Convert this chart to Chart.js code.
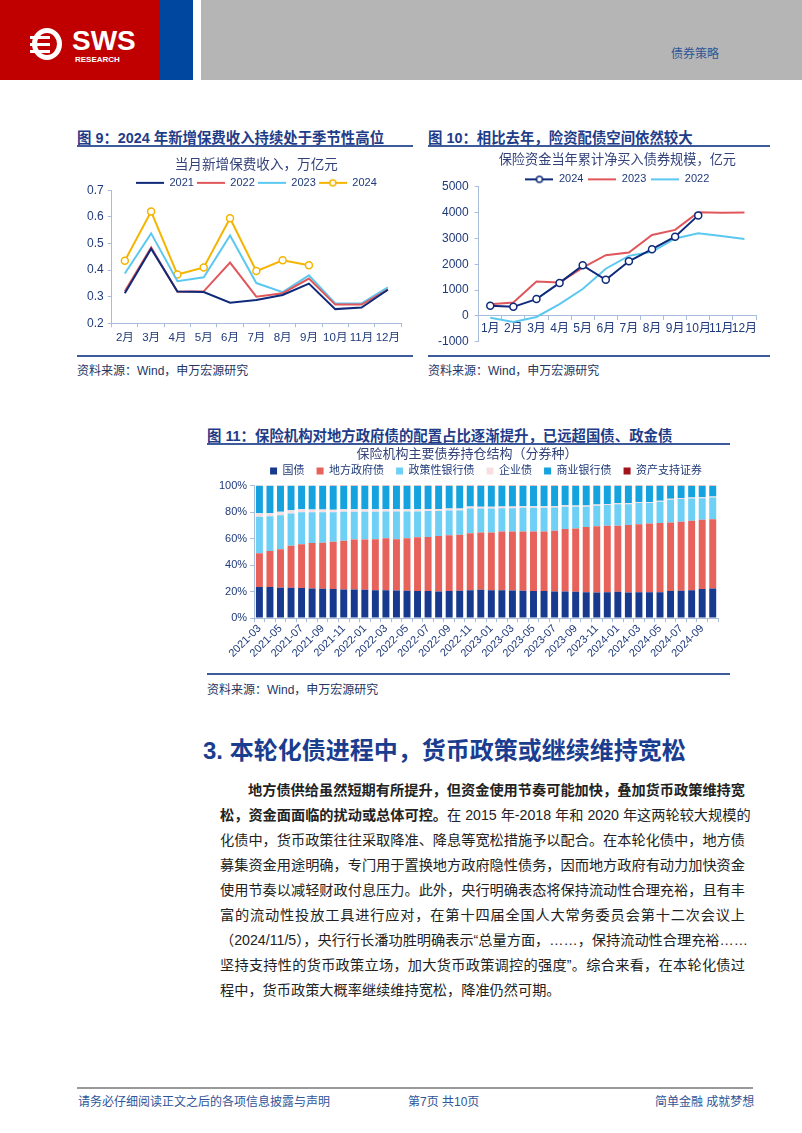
<!DOCTYPE html>
<html>
<head>
<meta charset="utf-8">
<script src="https://cdn.jsdelivr.net/npm/chart.js@4.4.1/dist/chart.umd.min.js"></script>
<style>
  body { margin: 0; background: #fff; font-family: "Liberation Sans", "Noto Sans CJK SC", sans-serif; }
  #page { position: relative; width: 802px; height: 1133px; overflow: hidden; }
  .abs { position: absolute; }
  .figtitle { font-weight: bold; font-size: 14.4px; color: #1f3c88; white-space: nowrap; }
  .rule { height: 2px; background: #3d5a9a; }
  .src { font-size: 12px; color: #26355f; white-space: nowrap; }
  .para { font-size: 14.2px; line-height: 16px; color: #222; white-space: nowrap; text-align: justify; text-align-last: justify; }
  .foot { font-size: 12px; color: #2f5597; white-space: nowrap; }
</style>
</head>
<body>
<div id="page">
  <!-- header -->
  <div class="abs" style="left:0;top:0;width:160px;height:80px;background:#c00000;"></div>
  <div class="abs" style="left:160px;top:0;width:33px;height:80px;background:#0047a0;"></div>
  <div class="abs" style="left:201px;top:0;width:601px;height:80px;background:#b5b5b5;"></div>
  <div class="abs" style="left:32px;top:28px;width:30px;height:32px;border:5px solid #fff;border-radius:50%;box-sizing:border-box;"></div>
  <div class="abs" style="left:30px;top:36px;width:20px;height:3px;background:#fff;"></div>
  <div class="abs" style="left:30px;top:43px;width:20px;height:3px;background:#fff;"></div>
  <div class="abs" style="left:30px;top:50px;width:20px;height:3px;background:#fff;"></div>
  <div class="abs" style="left:72px;top:25px;color:#fff;font:bold 28px 'Liberation Sans',sans-serif;">SWS</div>
  <div class="abs" style="left:75px;top:55px;color:#fff;font:bold 8px 'Liberation Sans',sans-serif;">RESEARCH</div>
  <div class="abs" style="left:671px;top:44px;color:#2f5597;font-size:12px;">债券策略</div>

  <!-- figure 9 / 10 titles -->
  <div class="abs figtitle" style="left:77px;top:126px;">图 9：2024 年新增保费收入持续处于季节性高位</div>
  <div class="abs rule" style="left:77px;top:145px;width:336px;"></div>
  <div class="abs figtitle" style="left:428px;top:126px;">图 10：相比去年，险资配债空间依然较大</div>
  <div class="abs rule" style="left:428px;top:145px;width:342px;"></div>
  <canvas id="c9" class="abs" width="336" height="205" style="left:77px;top:150px;"></canvas>
  <canvas id="c10" class="abs" width="342" height="205" style="left:428px;top:150px;"></canvas>
  <div class="abs rule" style="left:77px;top:355px;width:336px;"></div>
  <div class="abs rule" style="left:428px;top:355px;width:342px;"></div>
  <div class="abs src" style="left:77px;top:361px;">资料来源：Wind，申万宏源研究</div>
  <div class="abs src" style="left:428px;top:361px;">资料来源：Wind，申万宏源研究</div>

  <!-- figure 11 -->
  <div class="abs figtitle" style="left:207px;top:424px;">图 11：保险机构对地方政府债的配置占比逐渐提升，已远超国债、政金债</div>
  <div class="abs rule" style="left:207px;top:443px;width:523px;"></div>
  <canvas id="c11" class="abs" width="523" height="226" style="left:207px;top:446px;"></canvas>
  <div class="abs rule" style="left:207px;top:673px;width:523px;"></div>
  <div class="abs src" style="left:207px;top:680px;">资料来源：Wind，申万宏源研究</div>

  <!-- section -->
  <div class="abs" style="left:203px;top:737px;font-weight:bold;font-size:24px;line-height:28px;color:#1a3d8f;white-space:nowrap;">3. 本轮化债进程中，货币政策或继续维持宽松</div>
  <div id="paraBox"></div>

  <!-- footer -->
  <div class="abs" style="left:77px;top:1087px;width:676px;height:2px;background:#999;"></div>
  <div class="abs foot" style="left:78px;top:1092px;">请务必仔细阅读正文之后的各项信息披露与声明</div>
  <div class="abs foot" style="left:408px;top:1092px;">第7页 共10页</div>
  <div class="abs foot" style="left:655px;top:1092px;">简单金融 成就梦想</div>
</div>
<script>
// ---- figure 9 data: monthly new premium income, trillion yuan
const months9 = ['2月', '3月', '4月', '5月', '6月', '7月', '8月', '9月', '10月', '11月', '12月'];
const prem2021 = [0.313, 0.48, 0.319, 0.317, 0.277, 0.287, 0.306, 0.349, 0.253, 0.259, 0.326];
const prem2022 = [0.32, 0.485, 0.318, 0.32, 0.428, 0.30, 0.313, 0.368, 0.27, 0.27, 0.326];
const prem2023 = [0.387, 0.538, 0.358, 0.373, 0.53, 0.351, 0.317, 0.38, 0.274, 0.275, 0.335];
const prem2024 = [0.435, 0.62, 0.383, 0.41, 0.595, 0.396, 0.437, 0.418];

// ---- figure 10 data: cumulative net bond purchase by insurers, 100m yuan
const months10 = ['1月', '2月', '3月', '4月', '5月', '6月', '7月', '8月', '9月', '10月', '11月', '12月'];
const buy2024 = [392, 353, 654, 1281, 1960, 1399, 2118, 2588, 3072, 3895];
const buy2023 = [458, 523, 1333, 1300, 1869, 2353, 2458, 3137, 3333, 4013, 4000, 4010];
const buy2022 = [-65, -235, -39, 458, 1045, 1830, 2327, 2484, 3000, 3203, 3100, 2980];

// ---- figure 11 data: holdings structure by bond type, %
const months11 = [
  '2021-03', '2021-04', '2021-05', '2021-06', '2021-07', '2021-08', '2021-09', '2021-10', '2021-11', '2021-12',
  '2022-01', '2022-02', '2022-03', '2022-04', '2022-05', '2022-06', '2022-07', '2022-08', '2022-09', '2022-10', '2022-11', '2022-12',
  '2023-01', '2023-02', '2023-03', '2023-04', '2023-05', '2023-06', '2023-07', '2023-08', '2023-09', '2023-10', '2023-11', '2023-12',
  '2024-01', '2024-02', '2024-03', '2024-04', '2024-05', '2024-06', '2024-07', '2024-08', '2024-09', '2024-10'
];
const govBond = [23.4, 23.4, 23.0, 23.0, 22.8, 22.4, 22.1, 21.9, 21.6, 21.6, 21.4, 21.1, 21.1, 20.9, 20.6, 20.4, 20.4, 20.1, 20.4, 20.6, 21.1, 21.4,
  21.1, 21.1, 20.9, 20.6, 20.4, 20.4, 20.1, 20.1, 19.9, 19.6, 19.4, 19.6, 19.9, 19.4, 19.6, 19.6, 19.6, 20.4, 20.6, 21.0, 21.9, 22.4];
const localBond = [25.6, 27.2, 29.0, 31.6, 33.0, 34.2, 34.8, 35.7, 36.8, 37.8, 38.0, 38.5, 39.1, 38.7, 39.6, 40.6, 40.8, 41.9, 42.1, 42.4, 42.9, 43.3,
  43.6, 44.3, 44.5, 44.8, 45.0, 45.0, 45.8, 47.1, 47.8, 49.1, 50.0, 50.1, 49.8, 50.8, 51.3, 51.8, 52.1, 51.8, 52.1, 52.5, 52.3, 52.3];
const policyBank = [27.5, 26.2, 25.7, 24.4, 24.0, 23.2, 22.9, 22.2, 21.9, 20.9, 20.9, 20.7, 20.3, 20.9, 20.3, 19.5, 19.6, 18.8, 18.7, 18.3, 18.8, 18.1,
  18.1, 17.6, 17.6, 17.8, 17.8, 17.9, 17.6, 16.8, 16.3, 15.3, 15.4, 15.6, 16.3, 15.8, 15.9, 15.4, 16.1, 17.1, 17.1, 16.8, 16.3, 16.3];
const corpBond = [2.7, 2.6, 2.5, 2.4, 2.3, 2.2, 2.1, 2.0, 1.9, 1.9, 1.8, 1.8, 1.7, 1.7, 1.6, 1.6, 1.5, 1.5, 1.5, 1.4, 1.4, 1.3,
  1.3, 1.3, 1.2, 1.2, 1.2, 1.1, 1.1, 1.1, 1.0, 1.0, 1.0, 0.9, 0.9, 0.9, 0.9, 0.8, 0.8, 0.8, 0.8, 0.7, 0.7, 0.7];
const bankBond = [20.6, 20.4, 19.6, 18.4, 17.7, 17.8, 17.9, 17.9, 17.5, 17.5, 17.6, 17.6, 17.5, 17.5, 17.6, 17.6, 17.4, 17.4, 17.0, 17.0, 15.5, 15.6,
  15.6, 15.4, 15.5, 15.3, 15.3, 15.3, 15.1, 14.6, 14.7, 14.7, 13.9, 13.5, 12.8, 12.8, 12.0, 12.1, 11.1, 9.6, 9.1, 8.7, 8.5, 8.0];
const absBond = [0.2, 0.2, 0.2, 0.2, 0.2, 0.2, 0.2, 0.3, 0.3, 0.3, 0.3, 0.3, 0.3, 0.3, 0.3, 0.3, 0.3, 0.3, 0.3, 0.3, 0.3, 0.3,
  0.3, 0.3, 0.3, 0.3, 0.3, 0.3, 0.3, 0.3, 0.3, 0.3, 0.3, 0.3, 0.3, 0.3, 0.3, 0.3, 0.3, 0.3, 0.3, 0.3, 0.3, 0.3];

// ---- paragraph lines (as laid out in the report)
const paraLines = [
  ['<b>地方债供给虽然短期有所提升，但资金使用节奏可能加快，叠加货币政策维持宽</b>', true, true],
  ['<b>松，资金面面临的扰动或总体可控。</b>在 2015 年-2018 年和 2020 年这两轮较大规模的', false, true],
  ['化债中，货币政策往往采取降准、降息等宽松措施予以配合。在本轮化债中，地方债', false, true],
  ['募集资金用途明确，专门用于置换地方政府隐性债务，因而地方政府有动力加快资金', false, true],
  ['使用节奏以减轻财政付息压力。此外，央行明确表态将保持流动性合理充裕，且有丰', false, true],
  ['富的流动性投放工具进行应对，在第十四届全国人大常务委员会第十二次会议上', false, true],
  ['（2024/11/5），央行行长潘功胜明确表示“总量方面，……，保持流动性合理充裕……', false, true],
  ['坚持支持性的货币政策立场，加大货币政策调控的强度”。综合来看，在本轮化债过', false, true],
  ['程中，货币政策大概率继续维持宽松，降准仍然可期。', false, false]
];

const paraBox = document.getElementById('paraBox');
paraLines.forEach((l, i) => {
  const d = document.createElement('div');
  d.className = 'abs para';
  const left = l[1] ? 248 : 220;
  d.style.left = left + 'px';
  d.style.top = (782 + i * 25) + 'px';
  if (l[2]) d.style.width = (745 - left) + 'px';
  else d.style.textAlignLast = 'left';
  d.innerHTML = l[0];
  paraBox.appendChild(d);
});

Chart.defaults.font.family = "'Liberation Sans', 'Noto Sans CJK SC', sans-serif";
Chart.defaults.color = '#1f3a7a';
Chart.defaults.animation = false;

const axisColor = '#a9bcd9';
const tickColor = '#1f3a7a';

function legendIcon(color, marker) {
  const c = document.createElement('canvas');
  c.width = 28; c.height = 10;
  const g = c.getContext('2d');
  g.strokeStyle = color; g.lineWidth = 2;
  g.beginPath(); g.moveTo(0, 5); g.lineTo(28, 5); g.stroke();
  if (marker) {
    g.beginPath(); g.arc(14, 5, 3, 0, 2 * Math.PI);
    g.fillStyle = '#fff'; g.fill(); g.lineWidth = 1.5; g.stroke();
  }
  return c;
}

function lineLegend(icons, pad, maxH) {
  return {
    position: 'top',
    fullSize: false,
    maxHeight: maxH,
    labels: {
      usePointStyle: true,
      pointStyleWidth: 28,
      boxHeight: 10,
      padding: pad,
      color: tickColor,
      font: { size: 11 },
      generateLabels: (chart) => Chart.defaults.plugins.legend.labels.generateLabels(chart)
        .map((item, i) => Object.assign(item, { pointStyle: icons[i] }))
    }
  };
}

const c9 = document.getElementById('c9');
new Chart(c9, {
  type: 'line',
  data: {
    labels: months9,
    datasets: [
      { label: '2021', data: prem2021, borderColor: '#0f2a7a', borderWidth: 2, pointRadius: 0 },
      { label: '2022', data: prem2022, borderColor: '#e0575b', borderWidth: 2, pointRadius: 0 },
      { label: '2023', data: prem2023, borderColor: '#5cc8f0', borderWidth: 2, pointRadius: 0 },
      { label: '2024', data: prem2024, borderColor: '#f5b400', borderWidth: 2, pointRadius: 3.5,
        pointBackgroundColor: '#fff', pointBorderColor: '#f5b400', pointBorderWidth: 1.5 }
    ]
  },
  options: {
    responsive: false,
    layout: { padding: { left: 6, right: 12, bottom: 6 } },
    plugins: {
      title: { display: true, fullSize: false, text: '当月新增保费收入，万亿元', color: '#33427a', font: { size: 13.6, weight: 'normal' }, padding: { top: 7, bottom: 1 } },
      legend: lineLegend([legendIcon('#0f2a7a'), legendIcon('#e0575b'), legendIcon('#5cc8f0'), legendIcon('#f5b400', true)], 3, 16),
      tooltip: { enabled: false }
    },
    scales: {
      x: {
        offset: true,
        grid: { offset: true, drawOnChartArea: false, tickLength: 4, color: axisColor },
        border: { color: axisColor },
        ticks: { color: tickColor, font: { size: 11.5 }, autoSkip: false, maxRotation: 0, padding: 4 }
      },
      y: {
        min: 0.2, max: 0.7,
        grid: { drawOnChartArea: false, tickLength: 4, color: axisColor },
        border: { color: axisColor },
        ticks: { stepSize: 0.1, color: tickColor, font: { size: 12 }, padding: 4, callback: (v) => v.toFixed(1) }
      }
    }
  }
});

const c10 = document.getElementById('c10');
new Chart(c10, {
  type: 'line',
  data: {
    labels: months10,
    datasets: [
      { label: '2024', data: buy2024, borderColor: '#0f2a7a', borderWidth: 2, pointRadius: 3.5,
        pointBackgroundColor: '#fff', pointBorderColor: '#0f2a7a', pointBorderWidth: 1.5 },
      { label: '2023', data: buy2023, borderColor: '#e0575b', borderWidth: 2, pointRadius: 0 },
      { label: '2022', data: buy2022, borderColor: '#5cc8f0', borderWidth: 2, pointRadius: 0 }
    ]
  },
  options: {
    responsive: false,
    layout: { padding: { left: 4, right: 14, bottom: 10 } },
    plugins: {
      title: { display: true, fullSize: false, text: '保险资金当年累计净买入债券规模，亿元', color: '#33427a', font: { size: 13.2, weight: 'normal' }, padding: { top: 2, bottom: 1 } },
      legend: lineLegend([legendIcon('#0f2a7a', true), legendIcon('#e0575b'), legendIcon('#5cc8f0')], 5, 18),
      tooltip: { enabled: false }
    },
    scales: {
      x: {
        position: { y: 0 },
        offset: true,
        grid: { offset: true, drawOnChartArea: false, tickLength: 4, color: axisColor },
        border: { color: axisColor },
        ticks: { color: tickColor, font: { size: 12 }, maxRotation: 0, autoSkip: false, padding: 2 }
      },
      y: {
        min: -1000, max: 5000,
        grid: { drawOnChartArea: false, tickLength: 4, color: axisColor },
        border: { color: axisColor },
        ticks: { stepSize: 1000, color: tickColor, font: { size: 12 }, padding: 6, callback: (v) => String(v) }
      }
    }
  }
});

const c11 = document.getElementById('c11');
new Chart(c11, {
  type: 'bar',
  data: {
    labels: months11,
    datasets: [
      { label: '国债', data: govBond, backgroundColor: '#173a8e' },
      { label: '地方政府债', data: localBond, backgroundColor: '#e8625c' },
      { label: '政策性银行债', data: policyBank, backgroundColor: '#6fd0f5' },
      { label: '企业债', data: corpBond, backgroundColor: '#f9dfe2' },
      { label: '商业银行债', data: bankBond, backgroundColor: '#14a3de' },
      { label: '资产支持证券', data: absBond, backgroundColor: '#a3131b' }
    ]
  },
  options: {
    responsive: false,
    layout: { padding: { left: 9, right: 12, bottom: 12 } },
    datasets: { bar: { categoryPercentage: 1, barPercentage: 0.66 } },
    plugins: {
      title: { display: true, text: '保险机构主要债券持仓结构（分券种）', color: '#33427a', font: { size: 13, weight: 'normal' }, padding: { top: 1, bottom: -9 } },
      legend: {
        fullSize: false,
        maxHeight: 32,
        labels: { boxWidth: 7, boxHeight: 7, padding: 12, color: tickColor, font: { size: 11 } }
      },
      tooltip: { enabled: false }
    },
    scales: {
      x: {
        stacked: true,
        grid: { drawOnChartArea: false, tickLength: 4, color: axisColor },
        border: { color: axisColor },
        ticks: {
          color: tickColor, font: { size: 11 }, autoSkip: false, minRotation: 45, maxRotation: 45, padding: 0,
          callback: function (v, i) { return i % 2 === 0 ? this.getLabelForValue(v) : ''; }
        }
      },
      y: {
        stacked: true, min: 0, max: 100,
        grid: { drawOnChartArea: false, tickLength: 4, color: axisColor },
        border: { color: axisColor },
        ticks: { stepSize: 20, color: tickColor, font: { size: 11 }, padding: 3, callback: (v) => v + '%' }
      }
    }
  }
});
</script>
</body>
</html>
